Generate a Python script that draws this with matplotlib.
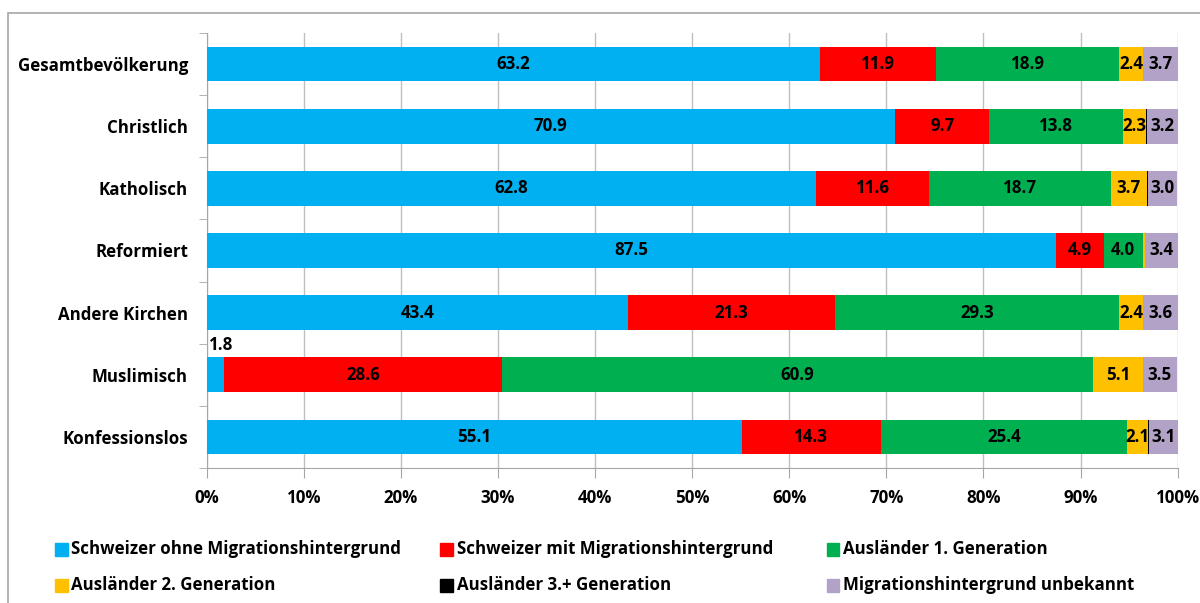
import matplotlib.pyplot as plt
import matplotlib.patches as mpatches
import numpy as np

plt.rcParams['font.family'] = ['Open Sans', 'DejaVu Sans']
plt.rcParams['font.weight'] = 'bold'

categories = ["Gesamtbevölkerung", "Christlich", "Katholisch", "Reformiert",
              "Andere Kirchen", "Muslimisch", "Konfessionslos"]

series_names = ["Schweizer ohne Migrationshintergrund",
                "Schweizer mit Migrationshintergrund",
                "Ausländer 1. Generation",
                "Ausländer 2. Generation",
                "Ausländer 3.+ Generation",
                "Migrationshintergrund unbekannt"]

ohne_mig = [63.2, 70.9, 62.8, 87.5, 43.4, 1.8, 55.1]
mit_mig = [11.9, 9.7, 11.6, 4.9, 21.3, 28.6, 14.3]
ausl_1 = [18.9, 13.8, 18.7, 4.0, 29.3, 60.9, 25.4]
ausl_2 = [2.4, 2.3, 3.7, 0.2, 2.4, 5.1, 2.1]
ausl_3 = [0.0, 0.1, 0.1, 0.0, 0.0, 0.0, 0.1]
unbekannt = [3.7, 3.2, 3.0, 3.4, 3.6, 3.5, 3.1]

colors = ["#00B0F0", "#FF0000", "#00B050", "#FFC000", "#000000", "#B3A2C7"]

values = [ohne_mig, mit_mig, ausl_1, ausl_2, ausl_3, unbekannt]

FS = 12.2

fig = plt.figure(figsize=(12, 6.03), dpi=100)
ax = fig.add_axes([0.1722, 0.2239, 0.8092, 0.7214])

# outer chart frame
fig.patches.append(mpatches.Rectangle((0.0067, -0.05), 1.2, 0.9784 + 0.05,
                                      transform=fig.transFigure, fill=False,
                                      edgecolor="#A6A6A6", linewidth=1.2))

y = np.arange(len(categories))
left = np.zeros(len(categories))
for name, vals, col in zip(series_names, values, colors):
    vals = np.array(vals)
    ax.barh(y, vals / 100, left=left / 100, height=0.56, color=col,
            label=name, zorder=3)
    for i, v in enumerate(vals):
        if v < 1.0:
            continue
        if categories[i] == "Muslimisch" and name == series_names[0]:
            ax.text(0.002, y[i] - 0.34, f"{v:.1f}", ha="left", va="bottom",
                    fontsize=FS, fontweight="bold", zorder=4)
        else:
            ax.text((left[i] + v / 2) / 100, y[i], f"{v:.1f}", ha="center",
                    va="center", fontsize=FS, fontweight="bold", zorder=4)
    left += vals

ax.set_xlim(0, 1)
ax.set_ylim(len(categories) - 0.5, -0.5)
ax.set_xticks(np.arange(0, 1.01, 0.1))
ax.set_xticklabels([f"{int(round(t * 100))}%" for t in np.arange(0, 1.01, 0.1)])
ax.set_yticks(y)
ax.set_yticklabels(categories)
ax.set_yticks(np.arange(-0.5, len(categories), 1), minor=True)
ax.tick_params(axis="y", which="major", length=0, pad=13.5, labelsize=FS)
ax.tick_params(axis="y", which="minor", length=6, color="#A6A6A6", direction="out")
ax.tick_params(axis="x", length=7, color="#A6A6A6", labelsize=FS, pad=8)
ax.grid(axis="x", color="#BFBFBF", linewidth=1, zorder=0)
for s in ["top", "right"]:
    ax.spines[s].set_visible(False)
for s in ["left", "bottom"]:
    ax.spines[s].set_color("#A6A6A6")
for lab in ax.get_xticklabels() + ax.get_yticklabels():
    lab.set_fontweight("bold")

# legend laid out row by row, three columns
leg_x = [0.046, 0.367, 0.689]
leg_y = [0.089, 0.030]
for k, (name, col) in enumerate(zip(series_names, colors)):
    r, c = divmod(k, 3)
    fig.patches.append(mpatches.Rectangle((leg_x[c], leg_y[r] - 0.011), 0.0105, 0.021,
                                          transform=fig.transFigure, color=col))
    fig.text(leg_x[c] + 0.0135, leg_y[r], name, ha="left", va="center",
             fontsize=FS, fontweight="bold")

plt.savefig("out.png", dpi=100)
